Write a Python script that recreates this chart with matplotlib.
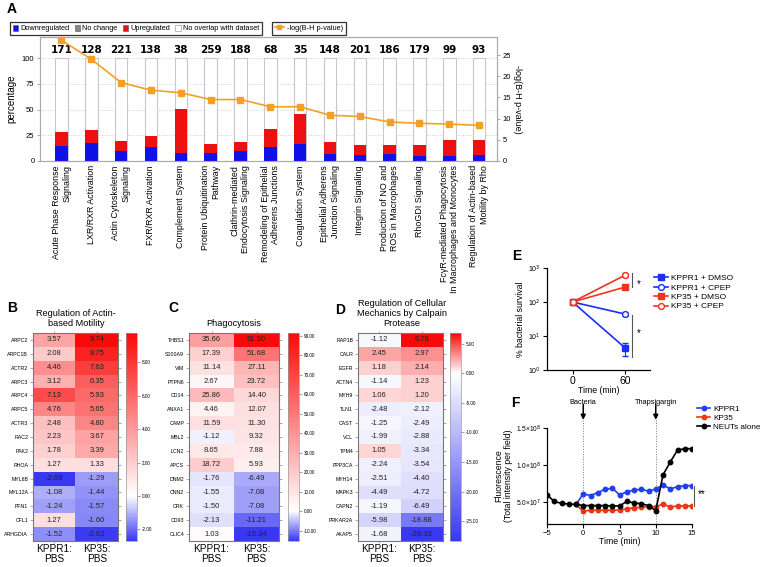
import numpy as np
import matplotlib
matplotlib.use('Agg')
import matplotlib.pyplot as plt
from matplotlib.colors import LinearSegmentedColormap, Normalize
from matplotlib.patches import Patch
from matplotlib.lines import Line2D

plt.rcParams['font.family'] = ['Liberation Sans', 'DejaVu Sans']

# ---------------- Panel A data ----------------
pathways = [
    "Acute Phase Response\nSignaling", "LXR/RXR Activation", "Actin Cytoskeleton\nSignaling",
    "FXR/RXR Activation", "Complement System", "Protein Ubiquitination\nPathway",
    "Clathrin-mediated\nEndocytosis Signaling", "Remodeling of Epithelial\nAdherens Junctions",
    "Coagulation System", "Epithelial Adherens\nJunction Signaling", "Integrin Signaling",
    "Production of NO and\nROS in Macrophages", "RhoGDI Signaling",
    "FcγR-mediated Phagocytosis\nIn Macrophages and Monocytes",
    "Regulation of Actin-based\nMotility by Rho"]
n_genes = [171, 128, 221, 138, 38, 259, 188, 68, 35, 148, 201, 186, 179, 99, 93]
pct_down = [14.9, 17.8, 10.0, 13.3, 8.1, 8.1, 10.0, 13.3, 16.8, 6.8, 6.1, 7.1, 5.1, 4.5, 5.5]
pct_up = [13.6, 12.6, 9.4, 11.0, 42.1, 8.1, 8.7, 18.1, 28.8, 11.3, 9.4, 8.1, 10.1, 15.6, 14.9]
neglog_p = [28.5, 24.0, 18.5, 16.7, 16.1, 14.5, 14.5, 12.8, 12.8, 10.8, 10.5, 9.2, 8.9, 8.7, 8.4]

# ---------------- Heatmap data ----------------
col_labels = ["KPPR1:\nPBS", "KP35:\nPBS"]
genes_B = ["ARPC2", "ARPC1B", "ACTR2", "ARPC3", "ARPC4", "ARPC5", "ACTR3", "RAC2", "PAK2",
           "RHOA", "MYL6B", "MYL12A", "PFN1", "CFL1", "ARHGDIA"]
kppr1_B = [3.57, 2.08, 4.46, 3.12, 7.13, 4.76, 2.48, 2.23, 1.78, 1.27, -2.69, -1.08, -1.24, 1.27, -1.52]
kp35_B = [9.74, 8.75, 7.63, 6.35, 5.93, 5.65, 4.80, 3.67, 3.39, 1.33, -1.29, -1.44, -1.57, -1.60, -2.62]
ticks_B = [-2, 0, 2, 4, 6, 8]

genes_C = ["THBS1", "S100A9", "VIM", "PTPN6", "CD14", "ANXA1", "CAMP", "MBL2", "LCN2", "APCS",
           "DNM2", "CNN2", "CRK", "CD93", "CLIC4"]
kppr1_C = [35.66, 17.39, 11.14, 2.67, 25.86, 4.46, 11.59, -1.12, 8.65, 18.72, -1.76, -1.55, -1.50, -2.13, 1.03]
kp35_C = [91.50, 51.68, 27.11, 23.72, 14.40, 12.07, 11.30, 9.32, 7.88, 5.93, -6.49, -7.08, -7.08, -11.21, -15.34]
ticks_C = [-10, 0, 10, 20, 30, 40, 50, 60, 70, 80, 90]

genes_D = ["RAP1B", "CALR", "EGFR", "ACTN4", "MYH9", "TLN1", "CAST", "VCL", "TPM4", "PPP3CA",
           "MYH14", "MAPK3", "CAPN2", "PRKAR2A", "AKAP5"]
kppr1_D = [-1.12, 2.45, 1.18, -1.14, 1.06, -2.48, -1.25, -1.99, 1.05, -2.24, -2.51, -4.49, -1.19, -5.98, -1.68]
kp35_D = [6.78, 2.97, 2.14, 1.23, 1.20, -2.12, -2.49, -2.88, -3.34, -3.54, -4.40, -4.72, -6.49, -18.88, -28.33]
ticks_D = [-25, -20, -15, -10, -5, 0, 5]

# ---------------- Panel E data ----------------
e_time = [0, 60]
e_labels = ["KPPR1 + DMSO", "KPPR1 + CPEP", "KP35 + DMSO", "KP35 + CPEP"]
e_vals = [[100, 4.4], [100, 44], [100, 276], [100, 620]]
e_errs = [[0, 1.8], [0, 5], [0, 25], [0, 70]]

# ---------------- Panel F data ----------------
f_time_neut = list(range(-5, 16))
f_neut = [5.95e7, 5.05e7, 4.8e7, 4.7e7, 4.65e7, 4.5e7, 4.5e7, 4.5e7, 4.5e7, 4.45e7, 4.45e7,
          5.05e7, 4.85e7, 4.75e7, 4.5e7, 3.8e7, 8.65e7, 1.04e8, 1.2e8, 1.22e8, 1.22e8]
f_time_bact = list(range(-1, 16))
f_kppr1 = [4.65e7, 6.08e7, 5.85e7, 6.26e7, 6.7e7, 6.85e7, 5.95e7, 6.35e7, 6.6e7, 6.7e7, 6.45e7,
           6.75e7, 7.3e7, 6.75e7, 7.05e7, 7.2e7, 7.2e7]
f_kp35 = [4.65e7, 3.7e7, 3.9e7, 3.87e7, 3.87e7, 3.87e7, 3.9e7, 4.05e7, 4.2e7, 4.25e7, 4.35e7,
          4.35e7, 4.7e7, 4.3e7, 4.45e7, 4.45e7, 4.45e7]

W, H = 764, 567
def fx(px): return px / W
def fy(py): return 1 - py / H

fig = plt.figure(figsize=(W / 100, H / 100), dpi=100)

BLUE_A = '#1010e8'
RED_A = '#ee1010'
ORANGE = '#f4a025'

# ================= Panel A =================
axA = fig.add_axes([fx(40), fy(161), (497 - 40) / W, (161 - 37) / H])
x = np.arange(len(pathways))
bw = 0.42
axA.bar(x, [100] * len(x), width=bw, color='white', edgecolor='#c8c8c8', linewidth=0.8, zorder=2)
axA.bar(x, pct_down, width=bw, color=BLUE_A, edgecolor='none', zorder=3)
axA.bar(x, pct_up, bottom=pct_down, width=bw, color=RED_A, edgecolor='none', zorder=3)
for xi, n in zip(x, n_genes):
    axA.text(xi, 108, str(n), ha='center', va='center', fontsize=7.5, fontweight='bold',
             family='DejaVu Sans', zorder=4)
axA.set_xlim(-0.72, 14.6)
axA.set_ylim(0, 120.4)
axA.set_yticks([0, 25, 50, 75, 100])
axA.yaxis.grid(True, linestyle=':', color='#cccccc', linewidth=0.7, zorder=0)
axA.set_axisbelow(True)
axA.set_xticks(x)
axA.set_xticklabels(pathways, rotation=90, fontsize=6.4, ha='center', va='top')
for lab in axA.get_xticklabels():
    lab.set_multialignment('right')
axA.tick_params(axis='x', length=0, pad=3)
axA.tick_params(axis='y', labelsize=5.5, length=2, width=0.5, color='#888', pad=2)
axA.set_ylabel('percentage', fontsize=7, labelpad=4)
for s in axA.spines.values():
    s.set_color('#aaaaaa')
    s.set_linewidth(0.8)

axA2 = axA.twinx()
axA2.plot(x, neglog_p, color=ORANGE, marker='s', markersize=3.8, linewidth=1.2, zorder=5, clip_on=False)
axA2.set_ylim(0, 29.25)
axA2.set_yticks([0, 5, 10, 15, 20, 25])
axA2.tick_params(axis='y', labelsize=5.5, length=2, width=0.5, color='#888', pad=2)
axA2.set_ylabel('-log(B-H p-value)', fontsize=6.5, rotation=270, labelpad=8)
for s in axA2.spines.values():
    s.set_color('#aaaaaa')
    s.set_linewidth(0.8)

legA1 = fig.legend(
    handles=[Patch(facecolor=BLUE_A, edgecolor='#555', lw=0.4),
             Patch(facecolor='#888888', edgecolor='#555', lw=0.4),
             Patch(facecolor=RED_A, edgecolor='#555', lw=0.4),
             Patch(facecolor='white', edgecolor='#888', lw=0.4)],
    labels=['Downregulated', 'No change', 'Upregulated', 'No overlap with dataset'],
    loc='upper left', bbox_to_anchor=(fx(6), fy(18)), ncol=4, fontsize=5.3,
    handlelength=0.7, handleheight=0.9, handletextpad=0.35,
    columnspacing=0.7, borderpad=0.4, fancybox=False, framealpha=1)
legA1.get_frame().set_edgecolor('#333333')
legA1.get_frame().set_linewidth(0.9)
legA2 = fig.legend(
    handles=[Line2D([], [], color=ORANGE, marker='s', markersize=3.5, lw=1.2)],
    labels=['-log(B-H p-value)'], loc='upper left', bbox_to_anchor=(fx(268), fy(18)),
    fontsize=5.3, handlelength=1.3, handletextpad=0.35, borderpad=0.4,
    fancybox=False, framealpha=1)
legA2.get_frame().set_edgecolor('#333333')
legA2.get_frame().set_linewidth(0.9)

fig.text(fx(12), fy(9), 'A', fontsize=10, fontweight='bold', ha='center', va='center')

# ================= Heatmaps =================
HB = (0.22, 0.22, 0.95)
HR = (0.98, 0.04, 0.04)

def heatmap(left, width, cleft, genes, v1, v2, ticks):
    data = np.column_stack([v1, v2])
    vmin, vmax = data.min(), data.max()
    frac = -vmin / (vmax - vmin)
    cmap = LinearSegmentedColormap.from_list('div', [(0, HB), (frac, 'white'), (1, HR)])
    ax = fig.add_axes([fx(left), fy(541), width / W, 208 / H])
    im = ax.imshow(data, cmap=cmap, norm=Normalize(vmin, vmax), aspect='auto',
                   interpolation='nearest')
    for i in range(data.shape[0]):
        for j in range(data.shape[1]):
            ax.text(j, i, f'{data[i, j]:.2f}', ha='center', va='center', fontsize=5.5,
                    color='#222222')
    ax.set_yticks(range(len(genes)))
    ax.set_yticklabels(genes, fontsize=3.8)
    ax.tick_params(axis='y', length=2, width=0.4, color='#666', right=True, pad=1.5)
    ax.set_xticks([0, 1])
    ax.set_xticklabels(col_labels, fontsize=7.2, linespacing=1.0)
    ax.tick_params(axis='x', length=1.5, width=0.4, color='#666', top=True, pad=0.8)
    for s in ax.spines.values():
        s.set_color('#777777')
        s.set_linewidth(0.8)
    cax = fig.add_axes([fx(cleft), fy(541), 11 / W, 208 / H])
    cb = fig.colorbar(im, cax=cax, ticks=ticks, format='%.2f')
    cb.ax.tick_params(labelsize=3.3, length=2, width=0.4, color='#555', pad=1.5)
    cb.outline.set_edgecolor('#999999')
    cb.outline.set_linewidth(0.5)
    return ax

heatmap(33, 85, 126, genes_B, kppr1_B, kp35_B, ticks_B)
heatmap(189, 90, 288, genes_C, kppr1_C, kp35_C, ticks_C)
heatmap(358, 85, 450, genes_D, kppr1_D, kp35_D, ticks_D)

fig.text(fx(76), fy(328), 'Regulation of Actin-\nbased Motility', fontsize=6.6, ha='center',
         va='bottom', linespacing=1.15)
fig.text(fx(234), fy(328), 'Phagocytosis', fontsize=6.6, ha='center', va='bottom')
fig.text(fx(402), fy(328), 'Regulation of Cellular\nMechanics by Calpain\nProtease', fontsize=6.6,
         ha='center', va='bottom', linespacing=1.15)
fig.text(fx(12), fy(308), 'B', fontsize=10, fontweight='bold', ha='center', va='center')
fig.text(fx(173), fy(308), 'C', fontsize=10, fontweight='bold', ha='center', va='center')
fig.text(fx(340), fy(310), 'D', fontsize=10, fontweight='bold', ha='center', va='center')

# ================= Panel E =================
axE = fig.add_axes([fx(547), fy(370), 103 / W, 102 / H])
e_colors = ['#1a2ff0', '#1a2ff0', '#f0341a', '#f0341a']
e_markers = ['s', 'o', 's', 'o']
e_fill = [True, False, True, False]
handlesE = []
for lab, vals, err, c, m, fill in zip(e_labels, e_vals, e_errs, e_colors, e_markers, e_fill):
    axE.errorbar(e_time, vals, yerr=err, color=c, marker=m, markersize=4.2,
                 markerfacecolor=c if fill else 'white', markeredgecolor=c, markeredgewidth=1.0,
                 linewidth=1.2, capsize=2, elinewidth=0.8, clip_on=False, zorder=3)
    handlesE.append(Line2D([], [], color=c, marker=m, markersize=4.2,
                           markerfacecolor=c if fill else 'white', markeredgecolor=c, lw=1.2))
axE.set_yscale('log')
axE.set_ylim(1, 1000)
axE.set_xlim(-29, 88)
axE.set_yticks([1, 10, 100, 1000])
axE.set_yticklabels(['10$^0$', '10$^1$', '10$^2$', '10$^3$'])
axE.yaxis.set_minor_locator(matplotlib.ticker.NullLocator())
axE.set_xticks([0, 60])
axE.tick_params(axis='y', labelsize=5, length=3, width=0.8, pad=1.5)
axE.tick_params(axis='x', labelsize=7.5, length=3, width=0.8, pad=1.5)
axE.spines['top'].set_visible(False)
axE.spines['right'].set_visible(False)
for s in ['left', 'bottom']:
    axE.spines[s].set_linewidth(0.9)
axE.set_xlabel('Time (min)', fontsize=6.3, labelpad=0)
axE.set_ylabel('% bacterial survival', fontsize=6.3, labelpad=2)
axE.plot([67, 67], [276, 700], color='#555', lw=0.8, clip_on=False)
axE.text(75, 340, '*', fontsize=7, ha='center', va='center')
axE.plot([67, 67], [2.4, 41], color='#555', lw=0.8, clip_on=False)
axE.text(75, 12, '*', fontsize=7, ha='center', va='center')
fig.legend(handles=handlesE, labels=e_labels, loc='upper left',
           bbox_to_anchor=(fx(650), fy(270)), fontsize=6, frameon=False,
           handlelength=1.6, handletextpad=0.4, labelspacing=0.2, borderpad=0)
fig.text(fx(517), fy(256), 'E', fontsize=10, fontweight='bold', ha='center', va='center')

# ================= Panel F =================
axF = fig.add_axes([fx(547), fy(524), 145 / W, 96 / H])
cK, cR = '#2040f0', '#f0341a'
axF.plot(f_time_bact, f_kppr1, color=cK, marker='o', markersize=3.2, lw=1.2, zorder=3)
axF.plot(f_time_bact, f_kp35, color=cR, marker='o', markersize=3.2, lw=1.2, zorder=3)
axF.plot(f_time_neut, f_neut, color='black', marker='o', markersize=3.2, lw=1.2, zorder=4)
axF.set_xlim(-5, 15)
axF.set_ylim(2e7, 1.5e8)
axF.set_xticks([-5, 0, 5, 10, 15])
axF.set_yticks([5e7, 1e8, 1.5e8])
axF.set_yticklabels(['5.0×10$^7$', '1.0×10$^8$', '1.5×10$^8$'])
axF.tick_params(axis='y', labelsize=4.8, length=3, width=0.8, pad=1.5)
axF.tick_params(axis='x', labelsize=5.5, length=3, width=0.8, pad=1.5)
axF.spines['top'].set_visible(False)
axF.spines['right'].set_visible(False)
for s in ['left', 'bottom']:
    axF.spines[s].set_linewidth(0.9)
axF.set_xlabel('Time (min)', fontsize=6.3, labelpad=0)
axF.set_ylabel('Fluorescence\n(Total intensity per field)', fontsize=6.3, labelpad=2,
               linespacing=1.1)
for xv, lab in [(0, 'Bacteria'), (10, 'Thapsigargin')]:
    axF.plot([xv, xv], [2e7, 1.62e8], color='#777', lw=0.7, ls=':', clip_on=False, zorder=1)
    axF.annotate('', xy=(xv, 1.61e8), xytext=(xv, 1.82e8), annotation_clip=False,
                 arrowprops=dict(arrowstyle='-|>', color='black', lw=1.1, mutation_scale=7,
                                 shrinkA=0, shrinkB=0))
    axF.text(xv, 1.85e8, lab, fontsize=5.3, ha='center', va='center', clip_on=False)
axF.plot([15.3, 15.3], [4.46e7, 7.2e7], color='#555', lw=0.8, clip_on=False)
axF.text(16.4, 6.0e7, '**', fontsize=7, ha='center', va='center')
handlesF = [Line2D([], [], color=c, marker='o', markersize=3.2, lw=1.2) for c in [cK, cR, 'black']]
fig.legend(handles=handlesF, labels=['KPPR1', 'KP35', 'NEUTs alone'], loc='upper left',
           bbox_to_anchor=(fx(693), fy(401)), fontsize=5.9, frameon=False, handlelength=1.6,
           handletextpad=0.35, labelspacing=0.15, borderpad=0)
fig.text(fx(515), fy(403), 'F', fontsize=10, fontweight='bold', ha='center', va='center')

fig.savefig('out.png', dpi=100)
